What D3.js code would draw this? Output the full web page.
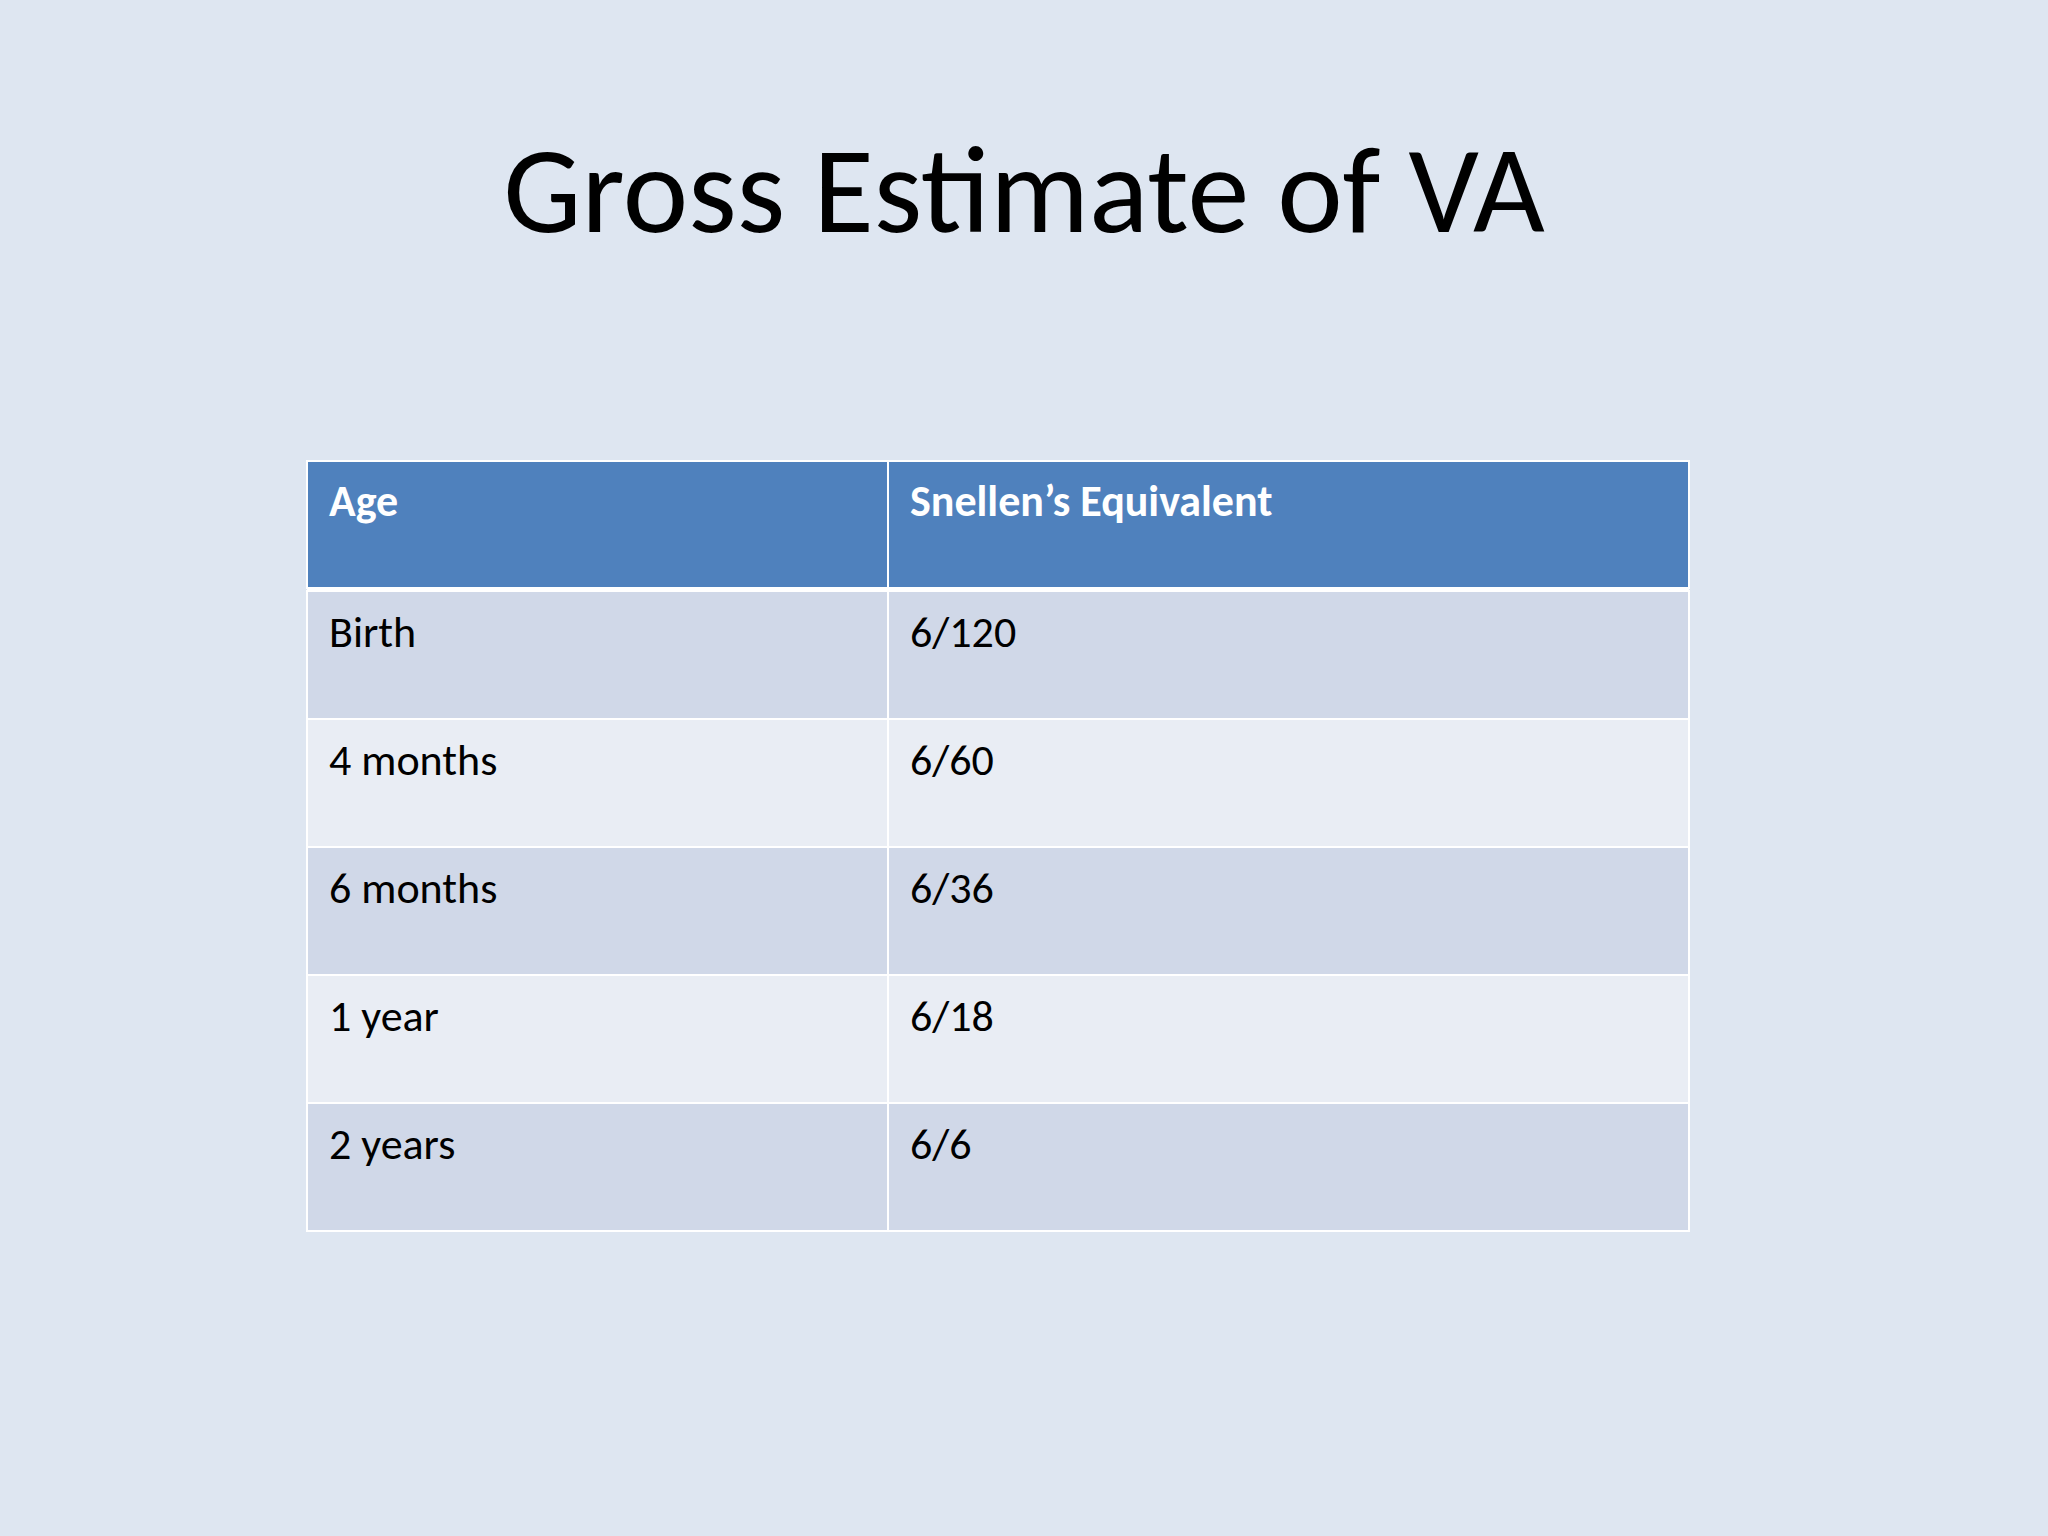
<!DOCTYPE html>
<html><head><meta charset="utf-8">
<script src="https://cdn.jsdelivr.net/npm/d3@7"></script>
<style>html,body{margin:0;padding:0;background:#dee6f1;}</style>
</head><body>
<script>
const title = "Gross Estimate of VA";
const headers = ["Age", "Snellen’s Equivalent"];
const ages = ["Birth", "4 months", "6 months", "1 year", "2 years"];
const snellen = ["6/120", "6/60", "6/36", "6/18", "6/6"];

(function () {
const W = 2048, H = 1536;
const svg = d3.select("body").append("svg").attr("width", W).attr("height", H);
const font = "Carlito, Lato, 'Open Sans', sans-serif";
svg.append("rect").attr("width", W).attr("height", H).attr("fill", "#dee6f1");
svg.append("text").attr("x", 1024).attr("y", 232).attr("text-anchor", "middle")
  .attr("font-family", font).attr("font-size", 124).attr("fill", "#000").text(title);

const left = 307, right = 1689, split = 888, tableTop = 461, headH = 127, rowH = 128;
const x = d3.scaleOrdinal().domain([0, 1]).range([left, split]);
const cw = [split - left, right - split];
const y = d3.scaleBand().domain(d3.range(ages.length)).range([tableTop + headH + 3, tableTop + headH + 3 + rowH * ages.length]);

const hg = svg.append("g");
headers.forEach((h, i) => {
  hg.append("rect").attr("x", x(i)).attr("y", tableTop).attr("width", cw[i]).attr("height", headH)
    .attr("fill", "#4f81bd").attr("stroke", "#fff").attr("stroke-width", 2);
  hg.append("text").attr("x", x(i) + 22).attr("y", tableTop + 55).attr("font-family", font)
    .attr("font-weight", "bold").attr("font-size", 44).attr("fill", "#fff").text(h);
});
svg.append("rect").attr("x", left).attr("y", tableTop + headH).attr("width", right - left).attr("height", 4).attr("fill", "#fff");

ages.forEach((a, r) => {
  [a, snellen[r]].forEach((t, i) => {
    svg.append("rect").attr("x", x(i)).attr("y", y(r)).attr("width", cw[i]).attr("height", y.bandwidth())
      .attr("fill", r % 2 === 0 ? "#d0d8e8" : "#e9edf4").attr("stroke", "#fff").attr("stroke-width", 2);
    svg.append("text").attr("x", x(i) + 22).attr("y", y(r) + 56).attr("font-family", font)
      .attr("font-size", 44).attr("fill", "#000").text(t);
  });
});
})();
</script>
</body></html>
